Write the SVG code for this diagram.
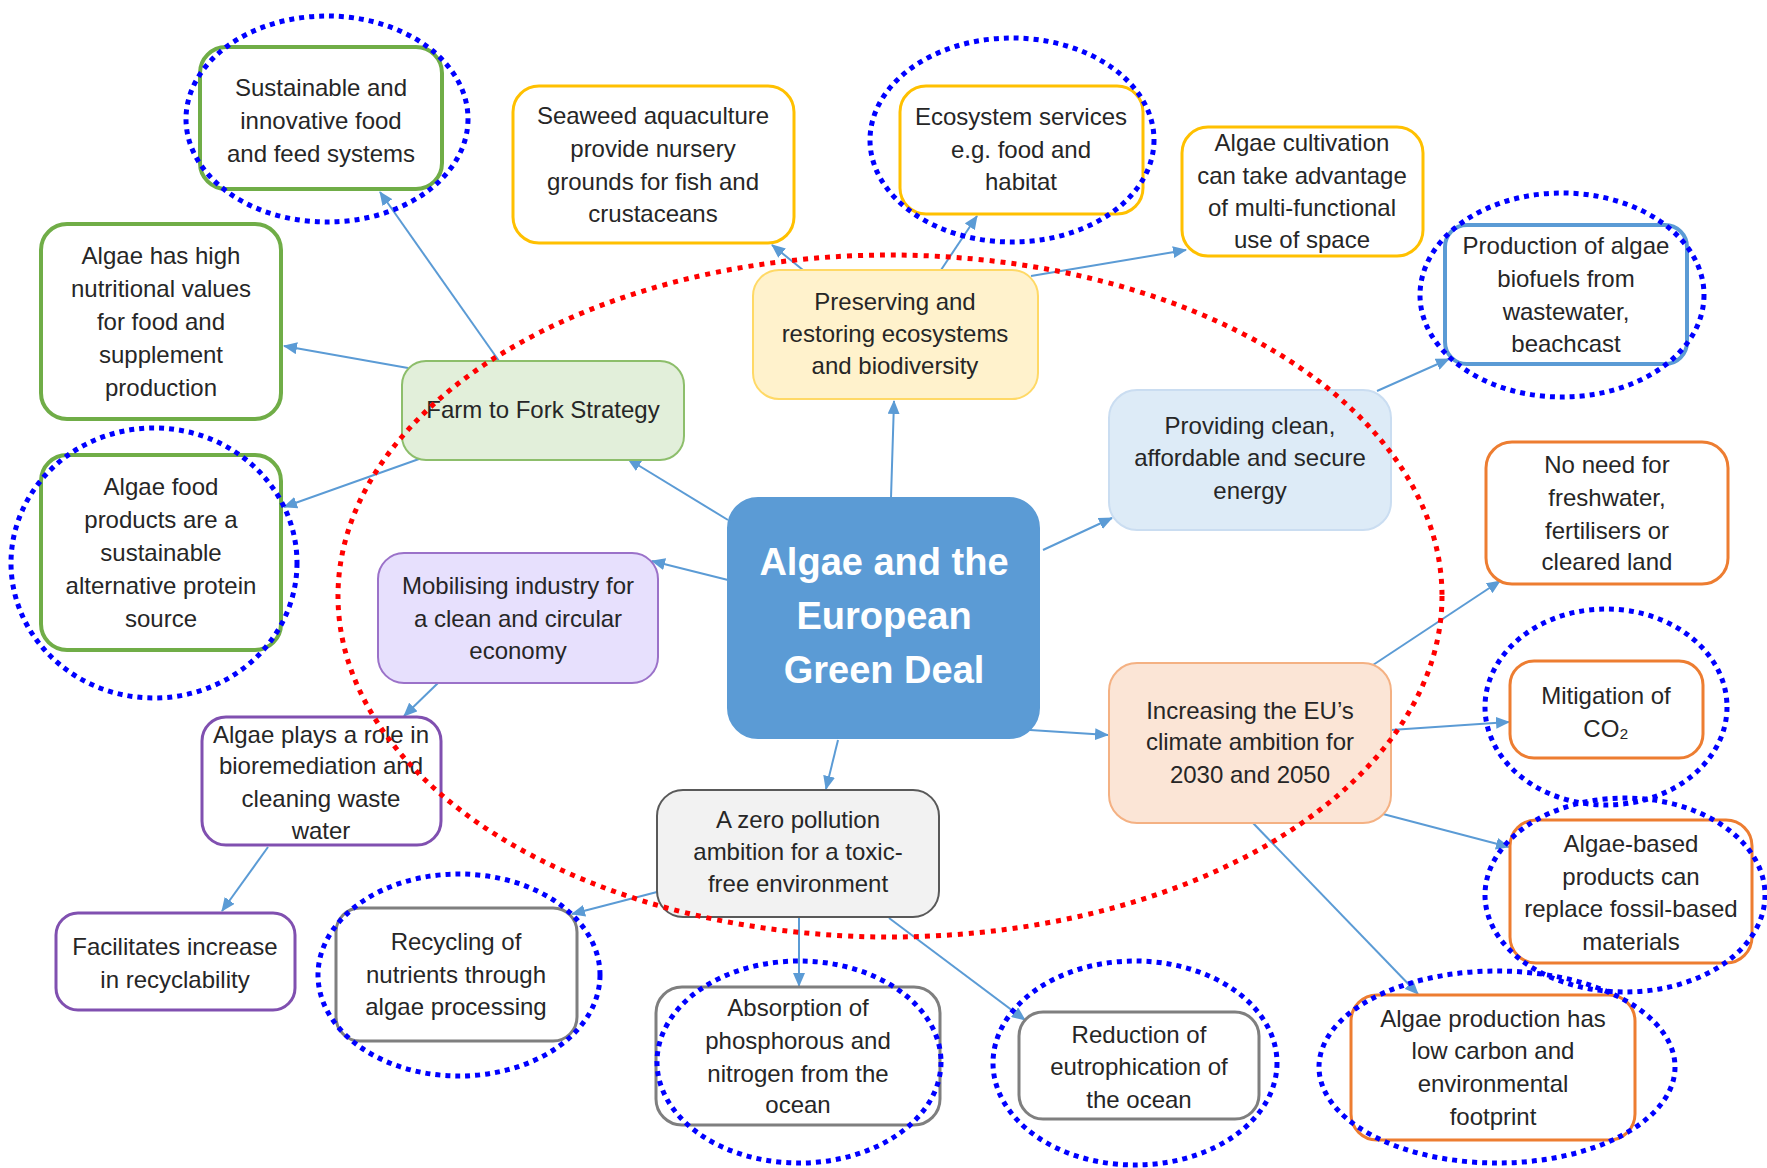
<svg xmlns="http://www.w3.org/2000/svg" width="1767" height="1168" viewBox="0 0 1767 1168">
<style>
.t{font-family:"Liberation Sans",Arial,sans-serif;font-size:24px;fill:#262626;text-anchor:middle}
.tc{font-family:"Liberation Sans",Arial,sans-serif;font-size:38px;font-weight:bold;fill:#ffffff;text-anchor:middle}
.g{fill:#ffffff;stroke:#70AD47;stroke-width:4}
.gf{fill:#E2EFDA;stroke:#8DBE6B;stroke-width:2}
.y{fill:#ffffff;stroke:#FFC000;stroke-width:3}
.yf{fill:#FFF2CC;stroke:#FFD966;stroke-width:2}
.b{fill:#ffffff;stroke:#5B9BD5;stroke-width:4}
.bf{fill:#DDEBF7;stroke:#CADDF1;stroke-width:2}
.c{fill:#5B9BD5;stroke:#5B9BD5;stroke-width:2}
.pf{fill:#E7E0FD;stroke:#9B72C9;stroke-width:2}
.p{fill:#ffffff;stroke:#8050B0;stroke-width:3}
.gr{fill:#ffffff;stroke:#7F7F7F;stroke-width:3}
.grf{fill:#F2F2F2;stroke:#595959;stroke-width:2}
.of{fill:#FBE5D6;stroke:#F4B183;stroke-width:2}
.o{fill:#ffffff;stroke:#ED7D31;stroke-width:3}
.cn line{stroke:#5B9BD5;stroke-width:2;marker-end:url(#ah)}
.bd{fill:none;stroke:#0000FF;stroke-width:5;stroke-dasharray:5 5}
.rd{fill:none;stroke:#FF0000;stroke-width:5;stroke-dasharray:5 6}
</style>
<defs>
<marker id="ah" markerUnits="userSpaceOnUse" markerWidth="14" markerHeight="12" refX="13" refY="6" orient="auto">
<path d="M0,0 L14,6 L0,12 z" fill="#5B9BD5"/>
</marker>
</defs>

<g id="connectors" class="cn">
<line x1="499" y1="361" x2="380" y2="192"/>
<line x1="408" y1="368" x2="284" y2="346"/>
<line x1="419" y1="459" x2="284" y2="507"/>
<line x1="728" y1="520" x2="628" y2="459"/>
<line x1="891" y1="498" x2="894" y2="401"/>
<line x1="803" y1="270" x2="772" y2="245"/>
<line x1="941" y1="270" x2="977" y2="216"/>
<line x1="1031" y1="276" x2="1186" y2="250"/>
<line x1="1377" y1="391" x2="1449" y2="359"/>
<line x1="1043" y1="550" x2="1112" y2="518"/>
<line x1="728" y1="580" x2="652" y2="561"/>
<line x1="438" y1="683" x2="404" y2="716"/>
<line x1="268" y1="847" x2="222" y2="911"/>
<line x1="838" y1="740" x2="826" y2="789"/>
<line x1="1030" y1="730" x2="1108" y2="735"/>
<line x1="657" y1="892" x2="572" y2="914"/>
<line x1="799" y1="918" x2="799" y2="986"/>
<line x1="889" y1="918" x2="1025" y2="1020"/>
<line x1="1373" y1="665" x2="1500" y2="581"/>
<line x1="1391" y1="730" x2="1509" y2="722"/>
<line x1="1383" y1="814" x2="1509" y2="847"/>
<line x1="1253" y1="823" x2="1418" y2="994"/>
</g>

<g id="n-sustainable"><rect class="g" x="200" y="47" width="242" height="142" rx="26"/>
<text class="t"><tspan x="321" y="96">Sustainable and</tspan><tspan x="321" y="129">innovative food</tspan><tspan x="321" y="162">and feed systems</tspan></text></g>

<g id="n-nutritional"><rect class="g" x="41" y="224" width="240" height="195" rx="26"/>
<text class="t"><tspan x="161" y="264">Algae has high</tspan><tspan x="161" y="297">nutritional values</tspan><tspan x="161" y="330">for food and</tspan><tspan x="161" y="363">supplement</tspan><tspan x="161" y="396">production</tspan></text></g>

<g id="n-protein"><rect class="g" x="41" y="455" width="240" height="195" rx="26"/>
<text class="t"><tspan x="161" y="495">Algae food</tspan><tspan x="161" y="528">products are a</tspan><tspan x="161" y="561">sustainable</tspan><tspan x="161" y="594">alternative protein</tspan><tspan x="161" y="627">source</tspan></text></g>

<g id="n-farm"><rect class="gf" x="402" y="361" width="282" height="99" rx="24"/>
<text class="t"><tspan x="543" y="418">Farm to Fork Strategy</tspan></text></g>

<g id="n-seaweed"><rect class="y" x="513" y="86" width="281" height="157" rx="26"/>
<text class="t"><tspan x="653" y="124">Seaweed aquaculture</tspan><tspan x="653" y="157">provide nursery</tspan><tspan x="653" y="190">grounds for fish and</tspan><tspan x="653" y="222">crustaceans</tspan></text></g>

<g id="n-ecosystem"><rect class="y" x="900" y="86" width="243" height="128" rx="26"/>
<text class="t"><tspan x="1021" y="125">Ecosystem services</tspan><tspan x="1021" y="158">e.g. food and</tspan><tspan x="1021" y="190">habitat</tspan></text></g>

<g id="n-cultivation"><rect class="y" x="1182" y="127" width="241" height="129" rx="26"/>
<text class="t"><tspan x="1302" y="151">Algae cultivation</tspan><tspan x="1302" y="184">can take advantage</tspan><tspan x="1302" y="216">of multi-functional</tspan><tspan x="1302" y="248">use of space</tspan></text></g>

<g id="n-preserving"><rect class="yf" x="753" y="270" width="285" height="129" rx="26"/>
<text class="t"><tspan x="895" y="310">Preserving and</tspan><tspan x="895" y="342">restoring ecosystems</tspan><tspan x="895" y="374">and biodiversity</tspan></text></g>

<g id="n-biofuels"><rect class="b" x="1445" y="225" width="242" height="139" rx="22"/>
<text class="t"><tspan x="1566" y="254">Production of algae</tspan><tspan x="1566" y="287">biofuels from</tspan><tspan x="1566" y="320">wastewater,</tspan><tspan x="1566" y="352">beachcast</tspan></text></g>

<g id="n-energy"><rect class="bf" x="1109" y="390" width="282" height="140" rx="28"/>
<text class="t"><tspan x="1250" y="434">Providing clean,</tspan><tspan x="1250" y="466">affordable and secure</tspan><tspan x="1250" y="499">energy</tspan></text></g>

<g id="n-center"><rect class="c" x="728" y="498" width="311" height="240" rx="30"/>
<text class="tc"><tspan x="884" y="575">Algae and the</tspan><tspan x="884" y="629">European</tspan><tspan x="884" y="683">Green Deal</tspan></text></g>

<g id="n-mobilising"><rect class="pf" x="378" y="553" width="280" height="130" rx="26"/>
<text class="t"><tspan x="518" y="594">Mobilising industry for</tspan><tspan x="518" y="627">a clean and circular</tspan><tspan x="518" y="659">economy</tspan></text></g>

<g id="n-bioremediation"><rect class="p" x="202" y="717" width="239" height="128" rx="24"/>
<text class="t"><tspan x="321" y="743">Algae plays a role in</tspan><tspan x="321" y="774">bioremediation and</tspan><tspan x="321" y="807">cleaning waste</tspan><tspan x="321" y="839">water</tspan></text></g>

<g id="n-recyclability"><rect class="p" x="56" y="913" width="239" height="97" rx="22"/>
<text class="t"><tspan x="175" y="955">Facilitates increase</tspan><tspan x="175" y="988">in recyclability</tspan></text></g>

<g id="n-zero"><rect class="grf" x="657" y="790" width="282" height="127" rx="26"/>
<text class="t"><tspan x="798" y="828">A zero pollution</tspan><tspan x="798" y="860">ambition for a toxic-</tspan><tspan x="798" y="892">free environment</tspan></text></g>

<g id="n-recycling"><rect class="gr" x="336" y="908" width="241" height="133" rx="24"/>
<text class="t"><tspan x="456" y="950">Recycling of</tspan><tspan x="456" y="983">nutrients through</tspan><tspan x="456" y="1015">algae processing</tspan></text></g>

<g id="n-absorption"><rect class="gr" x="656" y="987" width="284" height="138" rx="26"/>
<text class="t"><tspan x="798" y="1016">Absorption of</tspan><tspan x="798" y="1049">phosphorous and</tspan><tspan x="798" y="1082">nitrogen from the</tspan><tspan x="798" y="1113">ocean</tspan></text></g>

<g id="n-eutrophication"><rect class="gr" x="1019" y="1012" width="240" height="107" rx="24"/>
<text class="t"><tspan x="1139" y="1043">Reduction of</tspan><tspan x="1139" y="1075">eutrophication of</tspan><tspan x="1139" y="1108">the ocean</tspan></text></g>

<g id="n-increasing"><rect class="of" x="1109" y="663" width="282" height="160" rx="28"/>
<text class="t"><tspan x="1250" y="719">Increasing the EU’s</tspan><tspan x="1250" y="750">climate ambition for</tspan><tspan x="1250" y="783">2030 and 2050</tspan></text></g>

<g id="n-noneed"><rect class="o" x="1486" y="442" width="242" height="142" rx="26"/>
<text class="t"><tspan x="1607" y="473">No need for</tspan><tspan x="1607" y="506">freshwater,</tspan><tspan x="1607" y="539">fertilisers or</tspan><tspan x="1607" y="570">cleared land</tspan></text></g>

<g id="n-mitigation"><rect class="o" x="1510" y="661" width="193" height="97" rx="24"/>
<text class="t"><tspan x="1606" y="704">Mitigation of</tspan><tspan x="1606" y="737">CO₂</tspan></text></g>

<g id="n-fossil"><rect class="o" x="1510" y="820" width="242" height="143" rx="26"/>
<text class="t"><tspan x="1631" y="852">Algae-based</tspan><tspan x="1631" y="885">products can</tspan><tspan x="1631" y="917">replace fossil-based</tspan><tspan x="1631" y="950">materials</tspan></text></g>

<g id="n-footprint"><rect class="o" x="1351" y="995" width="284" height="145" rx="26"/>
<text class="t"><tspan x="1493" y="1027">Algae production has</tspan><tspan x="1493" y="1059">low carbon and</tspan><tspan x="1493" y="1092">environmental</tspan><tspan x="1493" y="1125">footprint</tspan></text></g>

<g id="highlights">
<ellipse class="rd" cx="890" cy="596" rx="552" ry="341"/>
<ellipse class="bd" cx="327" cy="119" rx="141" ry="103"/>
<ellipse class="bd" cx="154" cy="563" rx="143" ry="135"/>
<ellipse class="bd" cx="1012" cy="140" rx="142" ry="102"/>
<ellipse class="bd" cx="1562" cy="295" rx="142" ry="102"/>
<ellipse class="bd" cx="459" cy="975" rx="141" ry="101"/>
<ellipse class="bd" cx="799" cy="1062" rx="142" ry="101"/>
<ellipse class="bd" cx="1135" cy="1063" rx="142" ry="102"/>
<ellipse class="bd" cx="1606" cy="707" rx="121" ry="98"/>
<ellipse class="bd" cx="1625" cy="895" rx="140" ry="97"/>
<ellipse class="bd" cx="1497" cy="1067" rx="178" ry="96"/>
</g>
</svg>
